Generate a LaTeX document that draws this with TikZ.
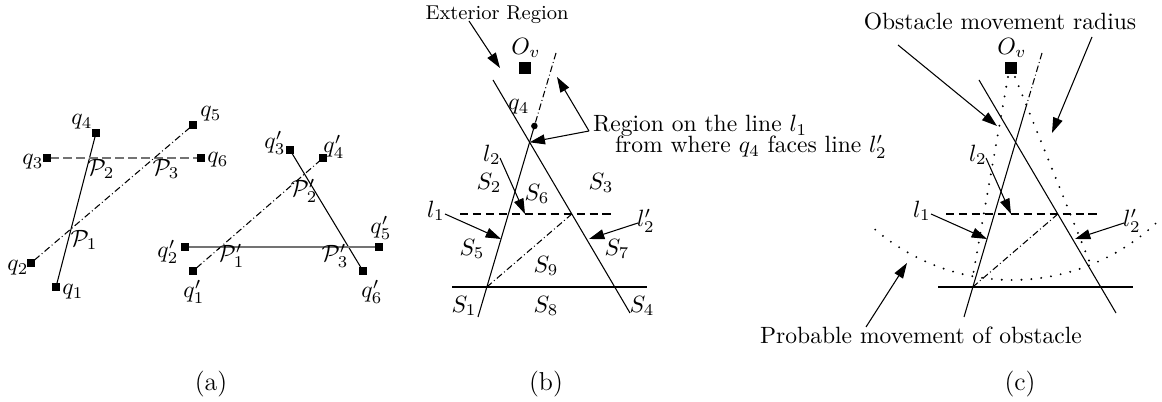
\documentclass[tikz,border=0pt]{standalone}
\usetikzlibrary{arrows.meta}
\begin{document}
\begin{tikzpicture}[x=0.4246pt,y=-0.4246pt]
\tikzset{
  every node/.style={inner sep=0pt, outer sep=0pt},
  ln/.style={line width=0.45pt},
  sq/.style={fill=black, minimum size=3pt, inner sep=0pt},
  bigsq/.style={fill=black, minimum size=5.4pt, inner sep=0pt},
  dashdotline/.style={line width=0.45pt, dash pattern=on 2.8pt off 1.2pt on 0.4pt off 1.2pt},
  dsh/.style={line width=0.45pt, dash pattern=on 3.6pt off 1.9pt},
  dotline/.style={line width=0.9pt, dash pattern=on 0pt off 4.2pt, line cap=round},
  arr/.style={line width=0.45pt, -{Triangle[length=6.5pt,width=4.2pt]}},
  smalltext/.style={font=\fontsize{8.5}{10}\selectfont},
  captext/.style={font=\fontsize{11}{13}\selectfont},
}
\useasboundingbox (0,0) rectangle (1162,402);

% ---------------- panel (a), left ----------------
\node[sq] (q1) at (56,287) {};
\node[sq] (q2) at (31,263) {};
\node[sq] (q3) at (47,158) {};
\node[sq] (q4) at (96,133) {};
\node[sq] (q5) at (193,125) {};
\node[sq] (q6) at (201,158) {};
\draw[ln] (q1) -- (q4);
\draw[dsh, black!55] (q3) -- (q6);
\draw[dashdotline] (q2) -- (q5);
\node (lq1) at (73,292) {$q_1$};
\node (lq2) at (18,268) {$q_2$};
\node (lq3) at (33,162) {$q_3$};
\node (lq4) at (82,122) {$q_4$};
\node (lq5) at (211,114) {$q_5$};
\node (lq6) at (218,160) {$q_6$};
\node (P1) at (84,240) {$\mathcal{P}_1$};
\node (P2) at (101,169) {$\mathcal{P}_2$};
\node (P3) at (166,169) {$\mathcal{P}_3$};

% ---------------- panel (a), right ----------------
\node[sq] (r1) at (193,271) {};
\node[sq] (r2) at (185,247) {};
\node[sq] (r3) at (290,150) {};
\node[sq] (r4) at (323,158) {};
\node[sq] (r5) at (379,247) {};
\node[sq] (r6) at (363,271) {};
\draw[ln] (r3) -- (r6);
\draw[dashdotline] (r1) -- (r4);
\draw[ln, black!55] (r2) -- (r5);
\node (lr1) at (194,292) {$q'_1$};
\node (lr2) at (168,252) {$q'_2$};
\node (lr3) at (275,143) {$q'_3$};
\node (lr4) at (334,147) {$q'_4$};
\node (lr5) at (381,228) {$q'_5$};
\node (lr6) at (372,292) {$q'_6$};
\node (Q1) at (231,256) {$\mathcal{P}'_1$};
\node (Q2) at (304,191) {$\mathcal{P}'_2$};
\node (Q3) at (335,256) {$\mathcal{P}'_3$};

% ---------------- panel (b) ----------------
\node[bigsq] (bO) at (525,68) {};
\node (bOl) at (526,48) {$O_v$};
\coordinate (bAt) at (556,53);
\coordinate (bAb) at (478,317);
\coordinate (bBt) at (493,80);
\coordinate (bBb) at (630,313);
\node[circle, fill=black, minimum size=2.8pt] (bq4) at (534.4,126) {};
\draw[dashdotline] (bAt) -- (bq4.center);
\draw[ln] (bq4.center) -- (bAb);
\draw[ln] (bBt) -- (bBb);
\coordinate (bX) at (intersection of bAt--bAb and bBt--bBb);
\node (bq4l) at (519,107) {$q_4$};

\node[smalltext, anchor=base] (bExt) at (497,20) {Exterior Region};
\coordinate (bExtS) at (469,21);
\coordinate (bExtT) at (500,68);
\draw[arr] (bExtS) -- (bExtT);

\node[anchor=base west] (bReg1) at (593,132) {Region on the line $l_1$};
\node[anchor=base west] (bReg2) at (615,153) {from where $q_4$ faces line $l'_2$};
\coordinate (bRegS) at (589,131);
\coordinate (bRegT) at (557,77);
\draw[arr] (bRegS) -- (bRegT);
\draw[arr] (bRegS) -- (bX);

\coordinate (bDl) at (460,214);
\coordinate (bDr) at (615,214);
\draw[dsh] (bDl) -- (bDr);
\coordinate (bH1) at (452,287);
\coordinate (bH2) at (647,287);
\draw[ln] (bH1) -- (bH2);
\coordinate (bDD1) at (intersection of bAt--bAb and bH1--bH2);
\coordinate (bDD2) at (intersection of bBt--bBb and bDl--bDr);
\draw[dashdotline] (bDD1) -- (bDD2);

\node (bl2) at (492,155) {$l_2$};
\coordinate (bl2s) at (500,158);
\coordinate (bl2t) at (525,214);
\draw[arr] (bl2s) -- (bl2t);
\node (bl1) at (436,211) {$l_1$};
\coordinate (bl1s) at (445,214);
\coordinate (bl1t) at (501,239);
\draw[arr] (bl1s) -- (bl1t);
\node (bl2p) at (646,221) {$l'_2$};
\coordinate (bl2ps) at (638,223);
\coordinate (bl2pt) at (589,239);
\draw[arr] (bl2ps) -- (bl2pt);

\node (bS2) at (489,183) {$S_2$};
\node (bS6) at (537,194) {$S_6$};
\node (bS3) at (601,183) {$S_3$};
\node (bS5) at (472,249) {$S_5$};
\node (bS7) at (617,249) {$S_7$};
\node (bS9) at (546,266) {$S_9$};
\node (bS1) at (464,306) {$S_1$};
\node (bS8) at (546,306) {$S_8$};
\node (bS4) at (642,306) {$S_4$};

% ---------------- panel (c) ----------------
\node[bigsq] (cO) at (1011,68) {};
\node (cOl) at (1012,48) {$O_v$};
\coordinate (cAt) at (1042,53);
\coordinate (cAm) at (1026.3,106);
\coordinate (cAb) at (964,317);
\coordinate (cBt) at (979,80);
\coordinate (cBb) at (1116,313);
\draw[dashdotline] (cAt) -- (cAm);
\draw[ln] (cAm) -- (cAb);
\draw[ln] (cBt) -- (cBb);

\coordinate (cDl) at (946,214);
\coordinate (cDr) at (1101,214);
\draw[dsh] (cDl) -- (cDr);
\coordinate (cH1) at (938,287);
\coordinate (cH2) at (1133,287);
\draw[ln] (cH1) -- (cH2);
\coordinate (cDD1) at (intersection of cAt--cAb and cH1--cH2);
\coordinate (cDD2) at (intersection of cBt--cBb and cDl--cDr);
\draw[dashdotline] (cDD1) -- (cDD2);

\node (cl2) at (978,155) {$l_2$};
\coordinate (cl2s) at (986,158);
\coordinate (cl2t) at (1011,214);
\draw[arr] (cl2s) -- (cl2t);
\node (cl1) at (922,211) {$l_1$};
\coordinate (cl1s) at (931,214);
\coordinate (cl1t) at (987,239);
\draw[arr] (cl1s) -- (cl1t);
\node (cl2p) at (1132,221) {$l'_2$};
\coordinate (cl2ps) at (1124,223);
\coordinate (cl2pt) at (1075,239);
\draw[arr] (cl2ps) -- (cl2pt);

% dotted radius lines and arc
\coordinate (cRL1) at (1008,77);
\coordinate (cRL2) at (973,275);
\coordinate (cRR1) at (1015,77);
\coordinate (cRR2) at (1090,263);
\draw[dotline] (cRL1) -- (cRL2);
\draw[dotline] (cRR1) -- (cRR2);
\draw[dotline] plot[domain=130.4:46.5, samples=90] ({1012+211*cos(\x)},{69+211*sin(\x)});

\node[anchor=base] (cObs) at (1000,30) {Obstacle movement radius};
\coordinate (cObsS1) at (898,45);
\coordinate (cObsT1) at (997,126);
\coordinate (cObsS2) at (1092,37);
\coordinate (cObsT2) at (1052,133);
\draw[arr] (cObsS1) -- (cObsT1);
\draw[arr] (cObsS2) -- (cObsT2);

\node[anchor=base] (cProb) at (921,344) {Probable movement of obstacle};
\coordinate (cProbS) at (866,327);
\coordinate (cProbT) at (907,263);
\draw[arr] (cProbS) -- (cProbT);

% ---------------- captions ----------------
\node[captext] (capa) at (211,384) {(a)};
\node[captext] (capb) at (546,384) {(b)};
\node[captext] (capc) at (1020,384) {(c)};
\end{tikzpicture}
\end{document}
